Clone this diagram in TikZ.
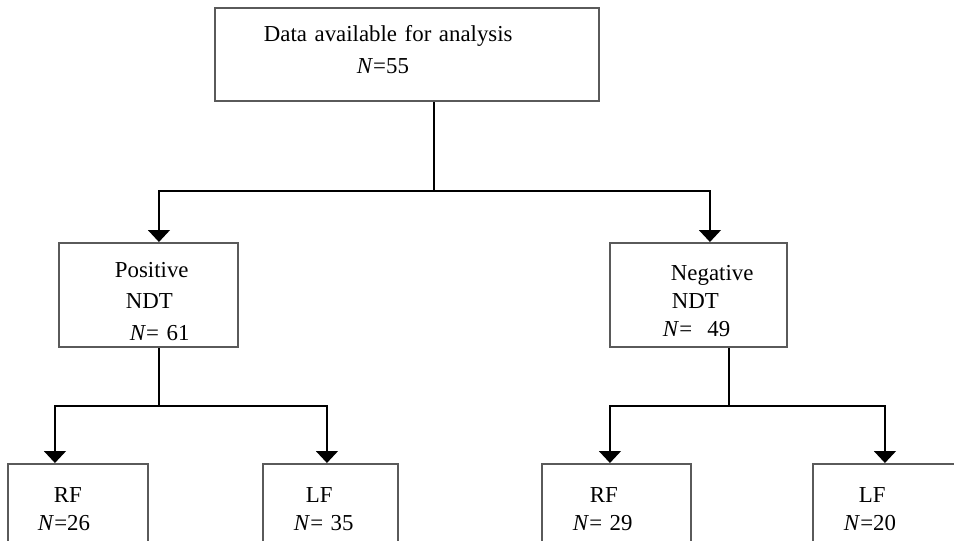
\documentclass[tikz,border=0pt]{standalone}
\usepackage{fontspec}
\setmainfont{Liberation Serif}
\usetikzlibrary{arrows.meta, positioning, calc}
\definecolor{cedge}{HTML}{5A5A5A}
\tikzset{
  every picture/.style={line width=0.9pt},
  box/.style={draw=cedge, line width=1.1pt, rectangle, anchor=north west, align=left,
    inner xsep=0.1cm, inner ysep=0pt, font=\fontsize{13}{16}\selectfont},
  wide/.style={font=\fontsize{13}{18}\selectfont},
  arrow/.style={-{Triangle[width=0.44cm, length=0.24cm]}, draw=black},
  link/.style={draw=black},
}
\newcommand{\nn}{\textit{N}}

\begin{document}
\begin{tikzpicture}[x=0.02cm, y=-0.02cm]
  \path[use as bounding box, clip] (0,0) rectangle (954,541);
  \node[box, wide, text depth=0.835cm, minimum width=7.68cm, minimum height=1.86cm, text width=7.48cm] (data) at (214,7)
    {\hspace*{0.88cm}Data available for analysis\\\hspace*{2.74cm}\nn=55};
  \node[box, wide, text depth=1.01cm, minimum width=3.58cm, minimum height=2.08cm, text width=3.38cm] (pos) at (58,242)
    {\hspace*{1.02cm}Positive\\\hspace*{1.24cm}NDT\\\hspace*{1.32cm}\nn= 61};
  \node[box, text depth=0.87cm, minimum width=3.54cm, minimum height=2.08cm, text width=3.34cm] (neg) at (609,242)
    {\hspace*{1.12cm}Negative\\\hspace*{1.14cm}NDT\\\hspace*{0.96cm}\nn=\ \ 49};
  \node[box, minimum width=2.8cm, minimum height=1.82cm, text width=2.6cm] (rfp) at (7,463)
    {\hspace*{0.82cm}RF\\\hspace*{0.5cm}\nn=26};
  \node[box, minimum width=2.7cm, minimum height=1.82cm, text width=2.5cm] (lfp) at (262,463)
    {\hspace*{0.76cm}LF\\\hspace*{0.52cm}\nn= 35};
  \node[box, minimum width=2.98cm, minimum height=1.82cm, text width=2.78cm] (rfn) at (541,463)
    {\hspace*{0.86cm}RF\\\hspace*{0.52cm}\nn= 29};
  \node[box, minimum width=2.88cm, minimum height=1.82cm, text width=2.68cm] (lfn) at (812,463)
    {\hspace*{0.82cm}LF\\\hspace*{0.52cm}\nn=20};
  % junctions
  \coordinate (j0) at ($(data.south)+(0.54cm,-1.78cm)$);
  \coordinate (j1) at ($(pos.south)+(0.21cm,-1.16cm)$);
  \coordinate (j2) at ($(neg.south)+(0.61cm,-1.16cm)$);
  \draw[link] (j0 |- data.south) -- (j0);
  \draw[arrow] (j0) -| ([xshift=0.21cm]pos.north);
  \draw[arrow] (j0) -| ([xshift=0.23cm]neg.north);
  \draw[link] (j1 |- pos.south) -- (j1);
  \draw[arrow] (j1) -| ([xshift=-0.46cm]rfp.north);
  \draw[arrow] (j1) -| ([xshift=-0.07cm]lfp.north);
  \draw[link] (j2 |- neg.south) -- (j2);
  \draw[arrow] (j2) -| ([xshift=-0.13cm]rfn.north);
  \draw[arrow] (j2) -| (lfn.north);
\end{tikzpicture}
\end{document}
